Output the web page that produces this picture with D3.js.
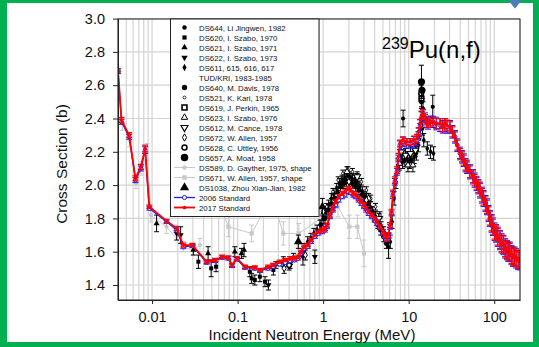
<!DOCTYPE html>
<html>
<head>
<meta charset="utf-8">
<script src="https://cdn.jsdelivr.net/npm/d3@7"></script>
<style>
  body { margin: 0; background: #fff; }
  svg { display: block; }
  text { font-family: "Liberation Sans", Arial, sans-serif; }
</style>
</head>
<body>
<svg id="chart" width="539" height="347"></svg>
<script>
// ---- data: [energy MeV, cross section b, uncertainty b] ----
var std2017 = [
  [0.0040,2.69,0.01],[0.0044,2.39,0.015],[0.0054,2.30,0.015],[0.0064,2.04,0.015],[0.0074,2.11,0.015],
  [0.0083,2.22,0.02],[0.0093,1.87,0.01],[0.0148,1.785,0.01],[0.0194,1.74,0.012],[0.0232,1.64,0.012],
  [0.0296,1.64,0.01],[0.0435,1.54,0.01],[0.0544,1.55,0.01],[0.066,1.57,0.01],[0.078,1.565,0.01],
  [0.086,1.52,0.01],[0.098,1.56,0.01],[0.122,1.51,0.01],[0.159,1.505,0.01],[0.183,1.49,0.01],
  [0.227,1.51,0.01],[0.26,1.52,0.01],[0.31,1.54,0.01],[0.36,1.55,0.01],[0.41,1.56,0.01],
  [0.46,1.56,0.01],[0.51,1.57,0.01],[0.55,1.60,0.01],[0.60,1.63,0.01],[0.66,1.64,0.01],
  [0.72,1.67,0.01],[0.80,1.70,0.01],[0.88,1.72,0.01],[0.97,1.73,0.012],[1.05,1.74,0.012],
  [1.11,1.76,0.012],[1.20,1.82,0.012],[1.30,1.86,0.012],[1.40,1.90,0.012],[1.52,1.93,0.012],
  [1.66,1.95,0.012],[1.80,1.96,0.012],[1.95,1.98,0.012],[2.10,1.97,0.012],[2.25,1.95,0.012],
  [2.40,1.94,0.012],[2.60,1.92,0.012],[2.80,1.90,0.012],[3.00,1.88,0.012],[3.20,1.86,0.012],
  [3.40,1.84,0.012],[3.70,1.82,0.012],[4.00,1.80,0.012],[4.26,1.78,0.012],[4.60,1.75,0.012],
  [5.00,1.72,0.015],[5.30,1.70,0.015],[5.57,1.68,0.015],[5.80,1.70,0.015],[6.04,1.76,0.015],
  [6.30,1.84,0.015],[6.55,1.95,0.02],[6.90,2.03,0.02],[7.30,2.09,0.02],[7.60,2.17,0.02],
  [7.90,2.25,0.02],[8.57,2.27,0.02],[9.50,2.26,0.02],[10.4,2.26,0.02],[11.5,2.27,0.025],
  [12.5,2.28,0.025],[13.1,2.32,0.025],[13.6,2.37,0.025],[14.2,2.42,0.025],[14.7,2.43,0.025],
  [15.5,2.40,0.025],[16.2,2.38,0.025],[16.8,2.37,0.025],[18.0,2.38,0.025],[19.2,2.38,0.025],
  [21.0,2.37,0.03],[23.2,2.37,0.03],[25.0,2.35,0.03],[26.5,2.37,0.03],[28.0,2.36,0.03],
  [30.4,2.35,0.03],[32.5,2.32,0.03],[34.8,2.29,0.03],[37.0,2.24,0.03],[39.8,2.19,0.03],
  [42,2.17,0.03],[44,2.15,0.03],[46,2.12,0.03],[48.1,2.11,0.03],[52,2.08,0.035],
  [56.5,2.05,0.035],[59,2.03,0.035],[62,2.01,0.035],[65,1.99,0.035],[68.1,1.97,0.04],
  [72,1.94,0.04],[75,1.92,0.04],[79,1.89,0.04],[82.2,1.87,0.04],[86,1.83,0.04],
  [89,1.80,0.04],[93,1.77,0.045],[96.6,1.75,0.045],[101,1.72,0.045],[105,1.71,0.045],
  [110,1.69,0.05],[116.7,1.67,0.05],[122,1.65,0.05],[128,1.64,0.05],[134,1.62,0.05],
  [141,1.61,0.05],[146,1.60,0.05],[152,1.60,0.05],[159,1.58,0.05],[166,1.57,0.05],
  [173,1.57,0.05],[180,1.56,0.05],[190,1.55,0.05],[200,1.55,0.05]
];
var std2006 = [
  [0.0040,2.68,0.01],[0.0044,2.38,0.015],[0.0054,2.29,0.015],[0.0064,2.03,0.015],[0.0074,2.10,0.015],
  [0.0083,2.21,0.02],[0.0093,1.86,0.01],[0.0148,1.78,0.01],[0.0194,1.73,0.012],[0.0232,1.63,0.012],
  [0.0296,1.635,0.01],[0.0435,1.535,0.01],[0.0544,1.545,0.01],[0.066,1.565,0.01],[0.078,1.56,0.01],
  [0.086,1.515,0.01],[0.098,1.555,0.01],[0.122,1.505,0.01],[0.159,1.50,0.01],[0.183,1.485,0.01],
  [0.227,1.50,0.01],[0.26,1.51,0.01],[0.31,1.525,0.01],[0.36,1.535,0.01],[0.41,1.545,0.01],
  [0.46,1.55,0.01],[0.51,1.56,0.01],[0.55,1.59,0.01],[0.60,1.62,0.01],[0.66,1.63,0.01],
  [0.72,1.66,0.01],[0.80,1.69,0.01],[0.88,1.71,0.01],[0.97,1.72,0.012],[1.05,1.73,0.012],
  [1.11,1.75,0.012],[1.20,1.81,0.012],[1.30,1.85,0.012],[1.40,1.88,0.012],[1.52,1.91,0.012],
  [1.66,1.93,0.012],[1.80,1.94,0.012],[1.95,1.96,0.012],[2.10,1.955,0.012],[2.25,1.94,0.012],
  [2.40,1.93,0.012],[2.60,1.91,0.012],[2.80,1.89,0.012],[3.00,1.87,0.012],[3.20,1.85,0.012],
  [3.40,1.83,0.012],[3.70,1.81,0.012],[4.00,1.79,0.012],[4.26,1.77,0.012],[4.60,1.745,0.012],
  [5.00,1.715,0.015],[5.30,1.695,0.015],[5.57,1.675,0.015],[5.80,1.695,0.015],[6.04,1.75,0.015],
  [6.30,1.83,0.015],[6.55,1.94,0.02],[6.90,2.02,0.02],[7.30,2.08,0.02],[7.60,2.16,0.02],
  [7.90,2.24,0.025],[8.57,2.26,0.028],[9.50,2.25,0.028],[10.4,2.25,0.028],[11.5,2.26,0.032],
  [12.5,2.27,0.032],[13.1,2.31,0.032],[13.6,2.36,0.032],[14.2,2.41,0.032],[14.7,2.42,0.032],
  [15.5,2.40,0.034],[16.2,2.38,0.034],[16.8,2.37,0.034],[18.0,2.38,0.034],[19.2,2.38,0.034],
  [21.0,2.37,0.038],[23.2,2.36,0.038],[25.0,2.35,0.038],[26.5,2.36,0.038],[28.0,2.35,0.038],
  [30.4,2.35,0.038],[32.5,2.32,0.038],[34.8,2.29,0.038],[37.0,2.24,0.038],[39.8,2.19,0.038],
  [42,2.17,0.038],[44,2.15,0.038],[46,2.12,0.04],[48.1,2.11,0.04],[52,2.08,0.043],
  [56.5,2.05,0.043],[59,2.03,0.043],[62,2.01,0.043],[65,1.99,0.043],[68.1,1.97,0.048],
  [72,1.94,0.048],[75,1.92,0.048],[79,1.89,0.048],[82.2,1.87,0.048],[86,1.83,0.048],
  [89,1.80,0.048],[93,1.77,0.053],[96.6,1.75,0.053],[101,1.72,0.053],[105,1.71,0.053],
  [110,1.69,0.058],[116.7,1.67,0.058],[122,1.65,0.058],[128,1.64,0.058],[134,1.62,0.058],
  [141,1.61,0.058],[146,1.60,0.058],[152,1.60,0.058],[159,1.58,0.058],[166,1.57,0.058],
  [173,1.57,0.058],[180,1.56,0.058],[190,1.55,0.058],[200,1.55,0.058]
];
var ds644 = [[8.6,2.40,0.05],[14.7,2.46,0.04],[19.1,2.47,0.07]];
var ds620 = [
  [0.0348,1.54,0.04],[0.0491,1.50,0.05],[0.056,1.51,0.03],[0.139,1.48,0.03],[0.146,1.44,0.03],
  [0.159,1.43,0.03],[0.182,1.45,0.03],[0.209,1.42,0.03],[0.262,1.49,0.03],[0.343,1.54,0.03]
];
var ds621 = [[0.0113,1.77,0.05],[0.0304,1.61,0.03],[0.0452,1.59,0.04],[0.0929,1.60,0.03],[0.111,1.59,0.03],[0.119,1.61,0.04],[0.412,1.53,0.03]];
var ds622 = [[0.0194,1.71,0.04],[0.0216,1.70,0.05],[0.229,1.40,0.03],[0.58,1.57,0.05],[0.80,1.57,0.04]];
var ds611 = [
  [0.60,1.62,0.03],[0.66,1.66,0.03],[0.72,1.68,0.03],[0.78,1.71,0.03],[0.85,1.73,0.03],
  [0.92,1.76,0.03],[1.00,1.80,0.03],[1.08,1.84,0.03],[1.16,1.88,0.03],[1.25,1.92,0.03],
  [1.34,1.95,0.03],[1.44,1.98,0.03],[1.55,2.01,0.03],[1.66,2.03,0.03],[1.78,2.04,0.03],
  [1.90,2.06,0.03],[2.04,2.05,0.03],[2.18,2.04,0.03],[2.34,2.03,0.03],[2.50,2.01,0.03],
  [2.68,1.99,0.03],[2.87,1.96,0.03],[3.07,1.93,0.03],[3.30,1.90,0.03],[3.55,1.87,0.03],
  [3.80,1.84,0.03],[4.10,1.81,0.03],[4.40,1.78,0.03],[4.75,1.75,0.03],[5.10,1.72,0.03],
  [5.45,1.68,0.03],[5.80,1.63,0.07],[6.10,1.66,0.04],[6.40,1.78,0.04],[6.75,1.92,0.04],
  [7.1,2.02,0.04],[7.5,2.12,0.04],[8.0,2.16,0.04],[8.5,2.14,0.04],[9.0,2.15,0.04],
  [9.6,2.16,0.04],[10.2,2.14,0.04],[10.9,2.15,0.04],[11.6,2.17,0.04],[12.3,2.19,0.04],
  [13.0,2.24,0.04],[13.5,2.33,0.04],[14.0,2.40,0.04],[14.5,2.34,0.04],[15.0,2.27,0.04],
  [16.5,2.22,0.04],[18.0,2.20,0.04],[19.5,2.19,0.04]
];
var ds640 = [
  [0.95,1.76,0.03],[1.05,1.80,0.03],[1.15,1.85,0.03],[1.25,1.89,0.03],[1.36,1.92,0.03],
  [1.48,1.96,0.03],[1.60,1.99,0.03],[1.74,2.01,0.03],[1.88,2.02,0.03],[2.02,2.02,0.03],
  [2.20,2.01,0.03],[2.40,1.99,0.03],[2.62,1.97,0.03],[2.85,1.94,0.03],[3.10,1.91,0.03],
  [3.40,1.87,0.03],[3.70,1.84,0.03],[4.00,1.81,0.03],[4.35,1.77,0.03],[4.70,1.73,0.03],
  [5.10,1.69,0.03],[5.50,1.65,0.03],[14.1,2.50,0.04]
];
var ds521 = [
  [0.28,1.52,0.02],[0.45,1.57,0.02],[1.10,1.87,0.02],[1.30,1.96,0.02],[1.50,2.03,0.02],
  [1.70,2.07,0.02],[1.95,2.09,0.02],[2.20,2.08,0.02],[2.50,2.05,0.02],[2.80,2.02,0.02],
  [3.20,1.97,0.02],[3.60,1.92,0.02],[4.10,1.87,0.02],[4.60,1.82,0.02]
];
var ds619 = [[14.1,2.52,0.05]];
var ds623 = [[1.9,2.08,0.03],[3.4,1.92,0.03],[7.8,2.13,0.04],[9.8,2.12,0.04],[11.2,2.12,0.04],[12.8,2.28,0.04]];
var ds612 = [[2.5,2.05,0.03],[4.5,1.80,0.03],[8.2,2.20,0.04],[9.2,2.18,0.04],[10.5,2.19,0.04],[12.0,2.21,0.04]];
var ds672 = [[0.35,1.50,0.03],[0.62,1.58,0.03],[1.0,1.84,0.03],[2.0,2.02,0.04],[3.2,1.91,0.04]];
var ds628 = [[0.40,1.52,0.03],[14.0,2.55,0.05]];
var ds657 = [[14.1,2.62,0.10],[14.3,2.57,0.05]];
var ds589 = [
  [0.0045,2.37,0.04],[0.0055,2.27,0.04],[0.0065,2.01,0.03],[0.0076,2.10,0.04],[0.0088,2.20,0.05],
  [0.0097,1.82,0.04],[0.0148,1.75,0.04],[0.0232,1.63,0.03],[0.030,1.61,0.03],[0.0363,1.64,0.04]
];
var ds671 = [
  [0.052,1.98,0.05],[0.078,1.75,0.06],[0.146,1.71,0.05],[0.25,1.93,0.06],[0.342,1.71,0.07],
  [0.52,1.71,0.06],[1.49,1.87,0.06],[2.02,1.75,0.07],[2.51,1.75,0.07],[3.0,1.59,0.08]
];
var ds1038 = [[0.513,1.66,0.04],[0.98,1.87,0.05]];

var xTickVals = [0.01, 0.1, 1, 10, 100];
var xTickLabels = ["0.01", "0.1", "1", "10", "100"];
var yTickVals = [1.4, 1.6, 1.8, 2.0, 2.2, 2.4, 2.6, 2.8, 3.0];

var legendLabels = [
  "DS644, Li Jingwen, 1982", "DS620, I. Szabo, 1970", "DS621, I. Szabo, 1971", "DS622, I. Szabo, 1973",
  "DS611, 615, 616, 617\nTUD/KRI, 1983-1985", "DS640, M. Davis, 1978", "DS521, K. Kari, 1978",
  "DS619, J. Perkin, 1965", "DS623, I. Szabo, 1976", "DS612, M. Cance, 1978", "DS672, W. Allen, 1957",
  "DS628, C. Uttley, 1956", "DS657, A. Moat, 1958", "DS589, D. Gayther, 1975, shape",
  "DS671, W. Allen, 1957, shape", "DS1038, Zhou Xian-Jian, 1982", "2006 Standard", "2017 Standard"
];

// ---- layout ----
var W = 539, H = 347;
var svg = d3.select("#chart");
var x = d3.scaleLog().domain([0.004, 200]).range([118, 520]);
var y = d3.scaleLinear().domain([1.31, 3.0]).range([300, 18.6]);
var pLeft = 118, pRight = 520, pTop = 19, pBottom = 300;

svg.append("rect").attr("width", W).attr("height", H).attr("fill", "#00b050");
svg.append("rect").attr("x", 7).attr("y", 3).attr("width", 526).attr("height", 339).attr("fill", "#fff");
svg.append("path").attr("d", "M508,0 L522,0 L515,8.5 Z").attr("fill", "#4a7ebb");

// grid
var grid = svg.append("g");
grid.selectAll(".vg").data(x.ticks()).enter().append("line")
  .attr("x1", function (d) { return x(d); }).attr("x2", function (d) { return x(d); })
  .attr("y1", pTop).attr("y2", pBottom).attr("stroke", "#d4d4d4").attr("stroke-width", 1.2);
grid.selectAll(".hg").data(yTickVals).enter().append("line")
  .attr("x1", pLeft).attr("x2", pRight)
  .attr("y1", function (d) { return y(d); }).attr("y2", function (d) { return y(d); })
  .attr("stroke", "#d4d4d4").attr("stroke-width", 1.2);

var clip = svg.append("defs").append("clipPath").attr("id", "plotclip");
clip.append("rect").attr("x", pLeft).attr("y", pTop).attr("width", pRight - pLeft).attr("height", pBottom - pTop);
var plot = svg.append("g").attr("clip-path", "url(#plotclip)");

function symbolPath(kind, size) {
  var t = {circle: d3.symbolCircle, square: d3.symbolSquare, tri: d3.symbolTriangle,
           triDown: d3.symbolTriangle, diamond: d3.symbolDiamond}[kind];
  return d3.symbol().type(t).size(size)();
}

function drawSeries(g, data, st) {
  var sg = g.append("g");
  var cap = st.cap || 5;
  sg.selectAll(".eb").data(data).enter().append("path")
    .attr("d", function (d) {
      var cx = x(d[0]), y1 = y(d[1] - d[2]), y2 = y(d[1] + d[2]);
      return "M" + cx + "," + y1 + "V" + y2 + "M" + (cx - cap / 2) + "," + y1 + "h" + cap +
             "M" + (cx - cap / 2) + "," + y2 + "h" + cap;
    })
    .attr("stroke", st.bar).attr("stroke-width", st.barW || 1).attr("fill", "none");
  if (st.line) {
    sg.append("path").attr("d", d3.line().x(function (d) { return x(d[0]); }).y(function (d) { return y(d[1]); })(data))
      .attr("fill", "none").attr("stroke", st.line).attr("stroke-width", st.lineW || 1);
  }
  sg.selectAll(".mk").data(data).enter().append("path")
    .attr("d", symbolPath(st.sym, st.size))
    .attr("transform", function (d) {
      return "translate(" + x(d[0]) + "," + y(d[1]) + ")" + (st.sym === "triDown" ? " rotate(180)" : "");
    })
    .attr("fill", st.fill).attr("stroke", st.stroke || "none").attr("stroke-width", st.sw || 1);
}

var styles = [
  {data: ds644, sym: "circle", size: 14, fill: "#000", bar: "#000"},
  {data: ds620, sym: "square", size: 16, fill: "#000", bar: "#000"},
  {data: ds621, sym: "tri", size: 16, fill: "#000", bar: "#000"},
  {data: ds622, sym: "triDown", size: 16, fill: "#000", bar: "#000"},
  {data: ds611, sym: "diamond", size: 14, fill: "#000", bar: "#000"},
  {data: ds640, sym: "circle", size: 20, fill: "#000", bar: "#000"},
  {data: ds521, sym: "circle", size: 6, fill: "#fff", stroke: "#000", sw: 0.8, bar: "#000"},
  {data: ds619, sym: "square", size: 22, fill: "#fff", stroke: "#000", sw: 1.6, bar: "#000"},
  {data: ds623, sym: "tri", size: 16, fill: "#fff", stroke: "#000", sw: 1, bar: "#000"},
  {data: ds612, sym: "triDown", size: 20, fill: "#fff", stroke: "#000", sw: 1.1, bar: "#000"},
  {data: ds672, sym: "diamond", size: 14, fill: "#fff", stroke: "#000", sw: 1, bar: "#000"},
  {data: ds628, sym: "circle", size: 18, fill: "#fff", stroke: "#000", sw: 1.5, bar: "#000"},
  {data: ds657, sym: "circle", size: 40, fill: "#000", bar: "#000"},
  {data: ds589, sym: "circle", size: 14, fill: "#c8c8c8", bar: "#c8c8c8", line: "#c8c8c8", lineW: 1},
  {data: ds671, sym: "square", size: 18, fill: "#c8c8c8", bar: "#c8c8c8", line: "#c8c8c8", lineW: 1},
  {data: ds1038, sym: "tri", size: 34, fill: "#000", bar: "#000"},
  {data: std2006, sym: "circle", size: 12, fill: "#fff", stroke: "#1a1aff", sw: 1, bar: "#1a1aff", line: "#1a1aff", lineW: 1.3, cap: 6},
  {data: std2017, sym: "circle", size: 10, fill: "#ff0000", bar: "#ff0000", line: "#ff0000", lineW: 1.8, cap: 6, barW: 1.2}
];
// grey shape data first, then black, then the two standards on top
[13, 14, 0, 1, 2, 3, 4, 5, 6, 7, 8, 9, 10, 11, 12, 15, 16, 17].forEach(function (i) {
  drawSeries(plot, styles[i].data, styles[i]);
});

// frame
svg.append("rect").attr("x", pLeft).attr("y", pTop).attr("width", pRight - pLeft).attr("height", pBottom - pTop)
  .attr("fill", "none").attr("stroke", "#222").attr("stroke-width", 1);

// axes
var xAxis = svg.append("g").attr("transform", "translate(0," + pBottom + ")")
  .call(d3.axisBottom(x).tickValues(xTickVals).tickFormat(function (d, i) { return xTickLabels[i]; })
    .tickSize(4).tickSizeOuter(0).tickPadding(8));
var yAxis = svg.append("g").attr("transform", "translate(" + pLeft + ",0)")
  .call(d3.axisLeft(y).tickValues(yTickVals).tickFormat(d3.format(".1f")).tickSize(5).tickSizeOuter(0).tickPadding(8));
[xAxis, yAxis].forEach(function (a) {
  a.select(".domain").attr("stroke", "#222");
  a.selectAll("text").attr("font-size", 14.5).attr("fill", "#111").attr("font-family", "Liberation Sans, Arial, sans-serif");
  a.selectAll(".tick line").attr("stroke", "#222");
});

svg.append("text").attr("x", 312).attr("y", 340).attr("text-anchor", "middle")
  .attr("font-size", 15).attr("fill", "#111").text("Incident Neutron Energy (MeV)");
svg.append("text").attr("transform", "translate(67,164) rotate(-90)").attr("text-anchor", "middle")
  .attr("font-size", 15.5).attr("fill", "#111").text("Cross Section (b)");

var title = svg.append("text").attr("x", 382).attr("y", 58).attr("fill", "#000");
title.append("tspan").attr("font-size", 16).attr("dy", -9).text("239");
title.append("tspan").attr("font-size", 24).attr("dy", 9).text("Pu(n,f)");

// legend
var lg = svg.append("g");
lg.append("rect").attr("x", 170.5).attr("y", 19).attr("width", 148.5).attr("height", 197.5)
  .attr("fill", "#fff").attr("stroke", "#222").attr("stroke-width", 1);
var rowY = 27.5, symX = 184.5;
legendLabels.forEach(function (lab, i) {
  var st = styles[i];
  var lines = lab.split("\n");
  if (st.line) {
    lg.append("line").attr("x1", 174).attr("x2", 195).attr("y1", rowY).attr("y2", rowY)
      .attr("stroke", st.line).attr("stroke-width", st.lineW);
  }
  lg.append("path").attr("d", symbolPath(st.sym, st.size * 1.1))
    .attr("transform", "translate(" + symX + "," + rowY + ")" + (st.sym === "triDown" ? " rotate(180)" : ""))
    .attr("fill", st.fill).attr("stroke", st.stroke || "none").attr("stroke-width", st.sw || 1);
  lines.forEach(function (ln, j) {
    lg.append("text").attr("x", 199).attr("y", rowY + 3 + j * 10).attr("font-size", 7.8)
      .attr("fill", "#111").text(ln);
  });
  rowY += 10 * lines.length;
});
</script>
</body>
</html>
